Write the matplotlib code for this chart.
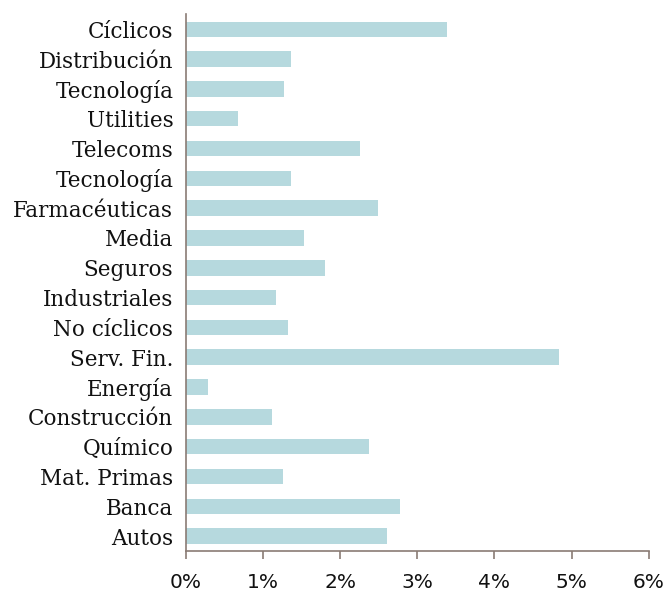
import matplotlib.pyplot as plt
from matplotlib.ticker import FuncFormatter

sectors = ["Autos", "Banca", "Mat. Primas", "Químico", "Construcción", "Energía",
           "Serv. Fin.", "No cíclicos", "Industriales", "Seguros", "Media",
           "Farmacéuticas", "Tecnología", "Telecoms", "Utilities", "Tecnología",
           "Distribución", "Cíclicos"]
values = [2.61, 2.78, 1.26, 2.38, 1.12, 0.29, 4.84, 1.32, 1.17, 1.81, 1.53,
          2.49, 1.36, 2.26, 0.68, 1.27, 1.36, 3.39]

axis_color = "#8a7b74"

fig = plt.figure(figsize=(6.66, 5.91), dpi=100)
ax = fig.add_axes([0.279, 0.0677, 0.695, 0.908])

pos = list(range(len(sectors)))
ax.barh(pos, values, height=0.52, color="#b6d9de")

ax.set_ylim(-0.5, len(sectors) - 0.5)
ax.set_xlim(0, 6)
ax.set_xticks(range(7))
ax.xaxis.set_major_formatter(FuncFormatter(lambda v, p: f"{int(v)}%"))
ax.set_yticks(pos)
ax.set_yticklabels(sectors, family=["DejaVu Serif"], fontsize=15.5)

for s in ["top", "right"]:
    ax.spines[s].set_visible(False)
for s in ["left", "bottom"]:
    ax.spines[s].set_color(axis_color)
    ax.spines[s].set_linewidth(1.2)

ax.tick_params(axis="y", length=0, pad=9, colors="#111111")
ax.tick_params(axis="x", length=5.5, width=1.2, color=axis_color, pad=10,
               labelsize=14.5, labelcolor="#111111")

fig.savefig("out.png", dpi=100)
